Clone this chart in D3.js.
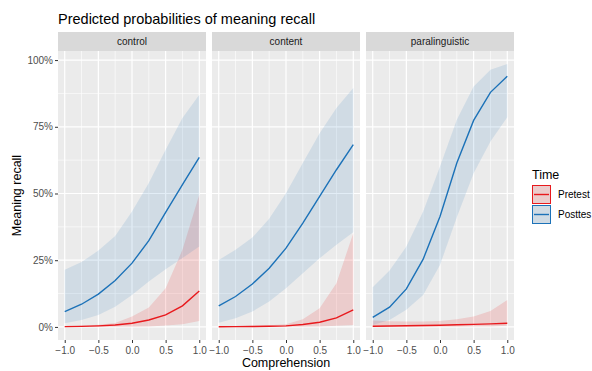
<!DOCTYPE html>
<html><head><meta charset="utf-8">
<script src="https://cdn.jsdelivr.net/npm/d3@7"></script>
<style>body{margin:0;background:#fff;} text{font-family:"Liberation Sans",Arial,Helvetica,sans-serif;}</style>
</head><body><svg id="c" width="592" height="371"></svg>
<script>
const xVals = [-1, -0.75, -0.5, -0.25, 0, 0.25, 0.5, 0.75, 1];
const panels = ["control", "content", "paralinguistic"];
const seriesNames = ["Pretest", "Posttes"];
const xTicks = [-1, -0.5, 0, 0.5, 1];
const yTicks = [0, 0.25, 0.5, 0.75, 1];

// control
const controlPostFit = [5.75, 8.5, 12.3, 17.4, 23.9, 32.3, 42.9, 53.3, 63.5];
const controlPostLo  = [1.4, 2.6, 4.5, 7.6, 12.0, 17.0, 21.6, 25.8, 30.1];
const controlPostHi  = [21.4, 24.3, 28.6, 34.1, 43.3, 53.9, 66.4, 78.3, 87.0];
const controlPreFit  = [0.1, 0.2, 0.4, 0.7, 1.4, 2.6, 4.5, 7.9, 13.5];
const controlPreLo   = [0.0, 0.0, 0.0, 0.05, 0.1, 0.2, 0.5, 1.0, 2.2];
const controlPreHi   = [0.2, 0.4, 0.8, 1.5, 3.9, 7.3, 14.5, 28.9, 49.5];
// content
const contentPostFit = [7.9, 11.4, 16.1, 22.0, 29.5, 38.9, 48.9, 58.9, 68.3];
const contentPostLo  = [1.6, 3.25, 5.75, 9.5, 14.5, 20.1, 25.75, 30.75, 35.5];
const contentPostHi  = [25.1, 28.9, 33.5, 40.5, 50.1, 61.4, 72.6, 82.0, 89.5];
const contentPreFit  = [0.05, 0.1, 0.15, 0.25, 0.4, 0.9, 1.75, 3.4, 6.4];
const contentPreLo   = [0.0, 0.0, 0.0, 0.0, 0.05, 0.1, 0.2, 0.4, 0.75];
const contentPreHi   = [0.1, 0.25, 0.4, 0.6, 1.0, 2.9, 7.0, 16.4, 35.1];
// paralinguistic
const paraPostFit = [3.6, 7.4, 14.25, 25.4, 41.4, 61.4, 77.4, 87.9, 93.9];
const paraPostLo  = [0.75, 2.6, 6.4, 12.0, 23.25, 41.1, 57.6, 69.5, 78.6];
const paraPostHi  = [14.9, 21.1, 30.1, 43.25, 60.1, 77.6, 90.1, 96.4, 98.5];
const paraPreFit  = [0.25, 0.35, 0.45, 0.55, 0.65, 0.8, 0.95, 1.15, 1.4];
const paraPreLo   = [0.05, 0.05, 0.05, 0.05, 0.1, 0.1, 0.15, 0.2, 0.4];
const paraPreHi   = [2.4, 2.1, 2.0, 2.0, 2.25, 2.9, 3.9, 6.0, 10.1];

const fits = {control:[controlPreFit, controlPostFit], content:[contentPreFit, contentPostFit], paralinguistic:[paraPreFit, paraPostFit]};
const los  = {control:[controlPreLo, controlPostLo], content:[contentPreLo, contentPostLo], paralinguistic:[paraPreLo, paraPostLo]};
const his  = {control:[controlPreHi, controlPostHi], content:[contentPreHi, contentPostHi], paralinguistic:[paraPreHi, paraPostHi]};

const colors = ["#E8191D", "#1C72B8"];
const fillAlpha = [0.15, 0.13];

const svg = d3.select("#c");
const panelW = 148, gap = 6, left0 = 58, stripTop = 32, stripH = 19, plotTop = 51, plotBottom = 340;

const y = d3.scaleLinear().domain([-0.049, 1.034]).range([plotBottom, plotTop]);
const yMinor = [0.125, 0.375, 0.625, 0.875];
const xMinor = [-0.75, -0.25, 0.25, 0.75];

// title
svg.append("text").attr("x", 58).attr("y", 24).attr("font-size", 14.5).attr("fill", "#000")
  .text("Predicted probabilities of meaning recall");

panels.forEach((p, i) => {
  const x0 = left0 + i * (panelW + gap);
  const x = d3.scaleLinear().domain([-1.1, 1.1]).range([x0, x0 + panelW]);
  const g = svg.append("g");
  // strip
  g.append("rect").attr("x", x0).attr("y", stripTop).attr("width", panelW).attr("height", stripH).attr("fill", "#D9D9D9");
  g.append("text").attr("x", x0 + panelW / 2).attr("y", stripTop + stripH / 2 + 3.5).attr("text-anchor", "middle")
    .attr("font-size", 10).attr("fill", "#1A1A1A").text(p);
  // panel bg
  g.append("rect").attr("x", x0).attr("y", plotTop).attr("width", panelW).attr("height", plotBottom - plotTop).attr("fill", "#EBEBEB");
  // grid
  yMinor.forEach(v => g.append("line").attr("x1", x0).attr("x2", x0 + panelW).attr("y1", y(v)).attr("y2", y(v)).attr("stroke", "#fff").attr("stroke-width", 0.6));
  xMinor.forEach(v => g.append("line").attr("y1", plotTop).attr("y2", plotBottom).attr("x1", x(v)).attr("x2", x(v)).attr("stroke", "#fff").attr("stroke-width", 0.6));
  yTicks.forEach(v => g.append("line").attr("x1", x0).attr("x2", x0 + panelW).attr("y1", y(v)).attr("y2", y(v)).attr("stroke", "#fff").attr("stroke-width", 1.2));
  xTicks.forEach(v => g.append("line").attr("y1", plotTop).attr("y2", plotBottom).attr("x1", x(v)).attr("x2", x(v)).attr("stroke", "#fff").attr("stroke-width", 1.2));

  // ribbons
  [0, 1].forEach(s => {
    const data = xVals.map((xv, k) => ({x: xv, lo: los[p][s][k] / 100, hi: his[p][s][k] / 100}));
    const area = d3.area().x(d => x(d.x)).y0(d => y(d.lo)).y1(d => y(d.hi));
    g.append("path").attr("d", area(data)).attr("fill", colors[s]).attr("fill-opacity", fillAlpha[s]);
  });
  [0, 1].forEach(s => {
    const data = xVals.map((xv, k) => ({x: xv, v: fits[p][s][k] / 100}));
    const line = d3.line().x(d => x(d.x)).y(d => y(d.v));
    g.append("path").attr("d", line(data)).attr("fill", "none").attr("stroke", colors[s]).attr("stroke-width", 1.4);
  });

  // x axis
  const ax = svg.append("g").attr("transform", `translate(0,${plotBottom})`)
    .call(d3.axisBottom(x).tickValues(xTicks).tickFormat(d3.format(".1f")).tickSize(3).tickPadding(4));
  ax.select(".domain").remove();
  ax.selectAll("line").attr("stroke", "#333");
  ax.selectAll("text").attr("font-size", 10).attr("fill", "#4D4D4D").attr("font-family", "Liberation Sans, Arial, sans-serif");
});

// y axis
const ay = svg.append("g").attr("transform", `translate(${left0},0)`)
  .call(d3.axisLeft(y).tickValues(yTicks).tickFormat(d3.format(".0%")).tickSize(3).tickPadding(2));
ay.select(".domain").remove();
ay.selectAll("line").attr("stroke", "#333");
ay.selectAll("text").attr("font-size", 10).attr("fill", "#4D4D4D").attr("font-family", "Liberation Sans, Arial, sans-serif");

// axis titles
svg.append("text").attr("x", left0 + (3 * panelW + 2 * gap) / 2).attr("y", 367).attr("text-anchor", "middle")
  .attr("font-size", 12.5).attr("fill", "#000").text("Comprehension");
svg.append("text").attr("transform", `translate(21,${(plotTop + plotBottom) / 2}) rotate(-90)`).attr("text-anchor", "middle")
  .attr("font-size", 12.5).attr("fill", "#000").text("Meaning recall");

// legend
const lg = svg.append("g");
lg.append("text").attr("x", 532).attr("y", 179).attr("font-size", 12.5).attr("fill", "#000").text("Time");
seriesNames.forEach((n, s) => {
  const ky = 185 + s * 20;
  lg.append("rect").attr("x", 532).attr("y", ky).attr("width", 19).attr("height", 19).attr("fill", "#EBEBEB");
  lg.append("rect").attr("x", 532.5).attr("y", ky + 0.5).attr("width", 18).attr("height", 18)
    .attr("fill", colors[s]).attr("fill-opacity", fillAlpha[s]).attr("stroke", colors[s]).attr("stroke-width", 1);
  lg.append("line").attr("x1", 534).attr("x2", 549).attr("y1", ky + 9.5).attr("y2", ky + 9.5).attr("stroke", colors[s]).attr("stroke-width", 1.4);
  lg.append("text").attr("x", 558).attr("y", ky + 13).attr("font-size", 10).attr("fill", "#000").text(n);
});
</script></body></html>
